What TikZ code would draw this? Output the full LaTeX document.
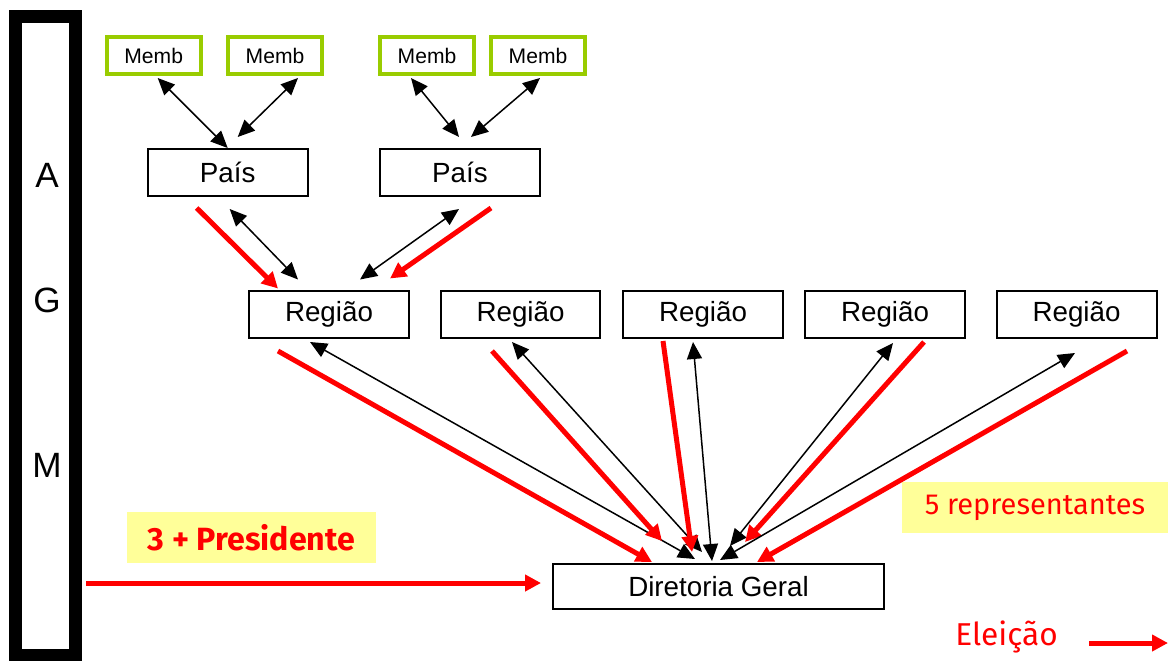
\documentclass[tikz,border=0pt]{standalone}
\usepackage{fontspec}
\setmainfont{Liberation Sans}
\newfontfamily\notefont{Fira Sans}
\usetikzlibrary{arrows.meta,calc}
\definecolor{membgreen}{HTML}{99CC00}
\definecolor{noteyellow}{HTML}{FFFF99}
\definecolor{elred}{HTML}{FF0000}
\tikzset{
  box/.style={draw, line width=0.04cm, minimum width=3.2cm, minimum height=0.94cm, inner sep=0pt, font=\fontsize{15.8}{18}\selectfont},
  memb/.style={draw=membgreen, line width=0.08cm, minimum width=1.88cm, minimum height=0.74cm, inner sep=0pt, font=\fontsize{12}{14}\selectfont},
  link/.style={{Triangle[length=0.34cm,width=0.3cm]}-{Triangle[length=0.34cm,width=0.3cm]}, line width=0.03cm},
  elect/.style={-{Triangle[length=0.32cm,width=0.32cm]}, draw=elred, line width=0.1cm},
  note/.style={fill=noteyellow, text=elred, minimum height=1.02cm, inner sep=0pt},
  agmletter/.style={font=\fontsize{20}{24}\selectfont}
}
\begin{document}
\begin{tikzpicture}[x=0.02cm,y=-0.02cm]
        \useasboundingbox (0,0) rectangle (1169,660);
        % AGM bar
        \node[draw, line width=0.26cm, minimum width=1.21cm, minimum height=12.78cm, inner sep=0pt] (agm) at (45.75,336.2) {};
        \node[agmletter] (agmA) at (47,175) {A};
        \node[agmletter] (agmG) at (47,300) {G};
        \node[agmletter] (agmM) at (47,465) {M};

        % Members
        \node[memb] (memb1) at (153.7,55.5) {Memb};
        \node[memb] (memb2) at (275,55.5) {Memb};
        \node[memb] (memb3) at (427,55.5) {Memb};
        \node[memb] (memb4) at (538,55.5) {Memb};

        % Countries
        \node[box] (pais1) at (227.7,172.5) {País};
        \node[box] (pais2) at (460,172.5) {País};

        % Regions
        \node[box] (reg1) at (329,314) {Região};
        \node[box] (reg2) at (520.5,314) {Região};
        \node[box] (reg3) at (703,314) {Região};
        \node[box] (reg4) at (885,314) {Região};
        \node[box] (reg5) at (1076.5,314) {Região};

        % Board
        \node[box, minimum width=6.62cm, minimum height=0.9cm] (dg) at (718.5,586.5) {Diretoria Geral};

        % Labels
        \node[note, minimum width=4.98cm, font=\notefont\bfseries\fontsize{18.3}{20}\selectfont] (pres) at (251.5,537.5) {3 + Presidente};
        \node[note, minimum width=5.32cm, font=\notefont\fontsize{16.5}{20}\selectfont] (reps) at (1035,507.5) {5 representantes};
        \node[text=elred, inner sep=0pt, font=\notefont\fontsize{18}{22}\selectfont] (elec) at (1006.5,637) {Eleição};
        \coordinate (legtip) at (1168,643);

        % Members - countries
        \draw[link] ($(memb1.south)+(4,2)$) -- (pais1.north);
        \draw[link] ($(memb2.south)+(23,2)$) -- ($(pais1.north)+(10,-11)$);
        \draw[link] ($(memb3.south)+(-16,2)$) -- ($(pais2.north)+(-1,-11)$);
        \draw[link] ($(memb4.south)+(2,2)$) -- ($(pais2.north)+(11,-11)$);

        % Countries - region
        \draw[link] ($(pais1.south)+(2,12)$) -- ($(reg1.north)+(-31,-10)$);
        \draw[elect] ($(pais1.south)+(-31,11)$) -- ($(reg1.north)+(-51,-1)$);
        \draw[link] ($(pais2.south)+(-1,12)$) -- ($(reg1.north)+(31,-10)$);
        \draw[elect] ($(pais2.south)+(31,11)$) -- ($(reg1.north)+(61,-11)$);

        % Regions - board
        \draw[link] ($(reg1.south)+(-19,3.5)$) -- ($(dg.north)+(-23.5,-4)$);
        \draw[elect] ($(reg1.south)+(-51,12.5)$) -- ($(dg.north)+(-66.5,-1)$);
        \draw[link] ($(reg2.south)+(-8.5,3.5)$) -- ($(dg.north)+(-16.5,-11)$);
        \draw[elect] ($(reg2.south)+(-28.5,12.5)$) -- ($(dg.north)+(-56.5,-22)$);
        \draw[link] ($(reg3.south)+(-10,3.5)$) -- ($(dg.north)+(-6.5,-2)$);
        \draw[elect] ($(reg3.south)+(-40,2.5)$) -- ($(dg.north)+(-26.5,-11)$);
        \draw[link] ($(reg4.south)+(8,4.5)$) -- ($(dg.north)+(11.5,-17)$);
        \draw[elect] ($(reg4.south)+(39,3.5)$) -- ($(dg.north)+(26.5,-21)$);
        \draw[link] ($(reg5.south)+(-1.5,14.5)$) -- ($(dg.north)+(1.5,-3)$);
        \draw[elect] ($(reg5.south)+(50.5,12.5)$) -- ($(dg.north)+(38.5,-1)$);

        % AGM - board
        \draw[elect] ($(agm.east |- dg.west)+(4,-3.5)$) -- ($(dg.west)+(-11,-3.5)$);

        % Legend
        \draw[elect] ($(elec.east)+(31,6)$) -- (legtip);
    \end{tikzpicture}
\end{document}
